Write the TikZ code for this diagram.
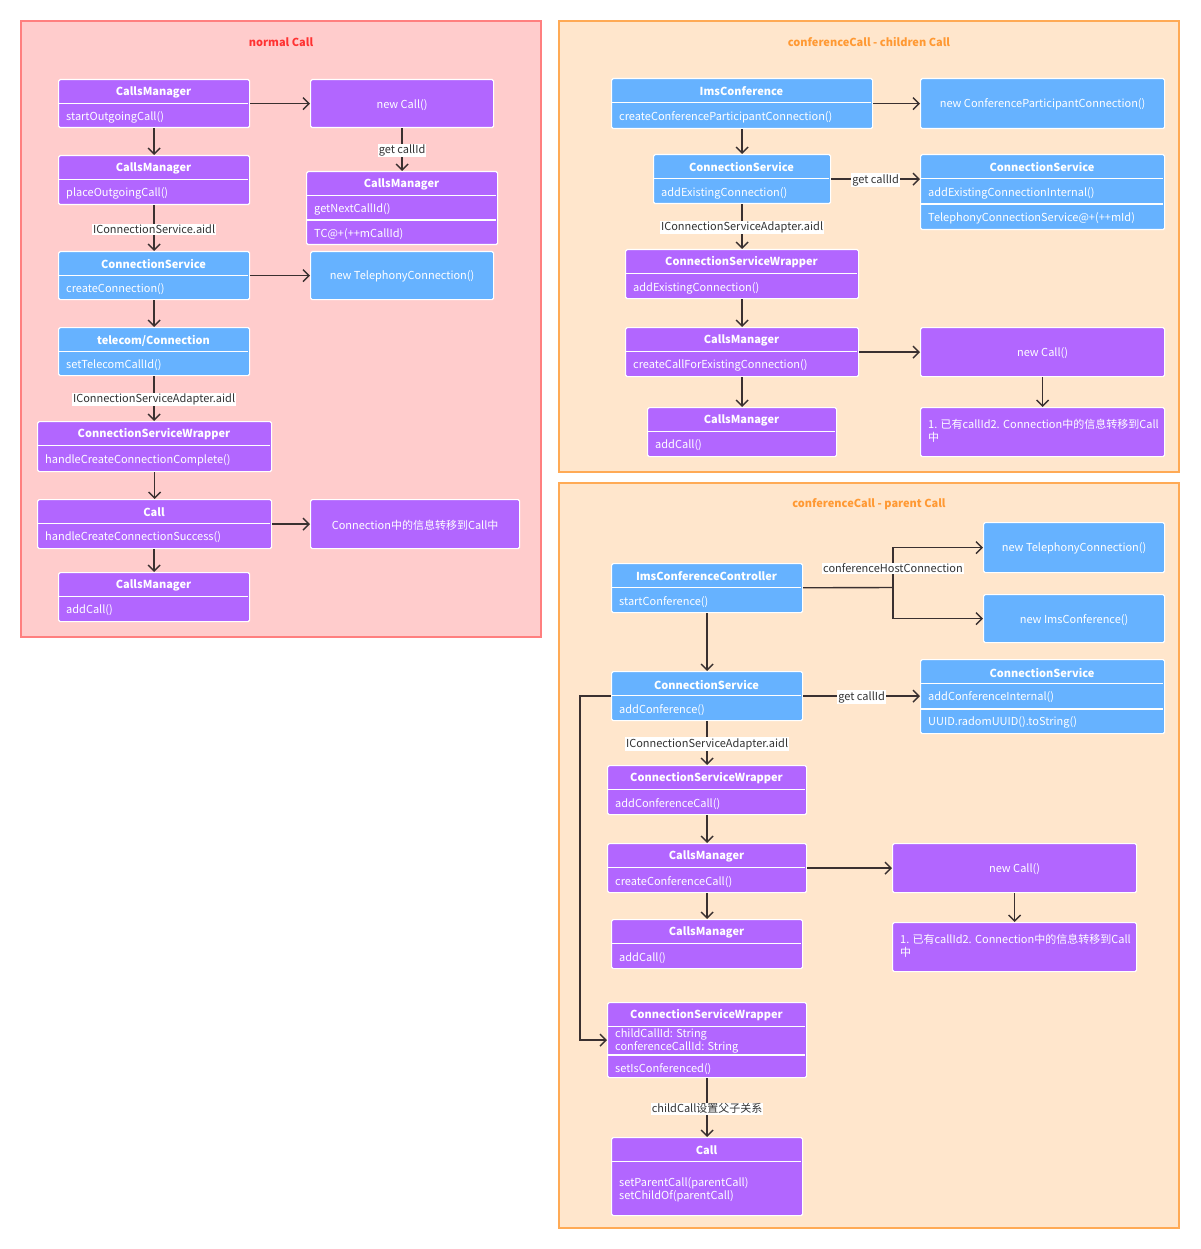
\documentclass[tikz,border=0pt]{standalone}
\usepackage{fontspec}
\setmainfont{Noto Sans CJK SC}
\usetikzlibrary{arrows.meta,calc}
\definecolor{purp}{HTML}{B266FF}
\definecolor{blu}{HTML}{66B2FF}
\definecolor{pinkbg}{HTML}{FFCCCC}
\definecolor{pinkbd}{HTML}{FF7F7F}
\definecolor{orgbg}{HTML}{FFE6CC}
\definecolor{orgbd}{HTML}{FFAA55}
\definecolor{redtitle}{HTML}{FF3333}
\definecolor{orgtitle}{HTML}{FF9933}
\definecolor{lnc}{HTML}{3A3030}
\definecolor{lbltext}{HTML}{333333}
\tikzset{
 ubox/.style={draw=white, line width=1.2pt, rounded corners=1.5pt, inner sep=0pt, text=white, font=\fontsize{11}{13}\selectfont},
 btext/.style={text=white, font=\fontsize{11}{13}\selectfont, inner sep=0pt, yshift=-1pt},
 htext/.style={text=white, font=\fontsize{11}{13}\selectfont\bfseries, inner sep=0pt, yshift=-1pt},
 mtext/.style={text=white, font=\fontsize{11}{13}\selectfont, inner sep=0pt, anchor=west, align=left, yshift=-1pt},
 sep/.style={draw=white, line width=1.5pt},
 conn/.style={draw=lnc, line width=1.4pt},
 arr/.style={conn, -{Straight Barb[length=6pt,width=12pt]}},
 lbl/.style={fill=white, text=lbltext, font=\fontsize{11}{13}\selectfont, inner sep=1pt, yshift=-1pt},
 panelbox/.style={line width=2pt},
 ptitle/.style={font=\fontsize{11}{13}\selectfont\bfseries, inner sep=0pt, yshift=-1pt},
}
\newcommand\classbox[7]{% name, fill, x, y, w, h, title
 \node[ubox,fill=#2,minimum width=#5pt,minimum height=#6pt,anchor=north west] (#1) at (#3,#4) {};
 \node[htext] at ({#3+#5/2},{#4+12.5}) {#7};
 \draw[sep] ({#3+0.6},{#4+24.5}) -- ++({#5-1.2},0);
}
\newcommand\plainbox[7]{% name, fill, x, y, w, h, text
 \node[ubox,fill=#2,minimum width=#5pt,minimum height=#6pt,anchor=north west] (#1) at (#3,#4) {};
 \node[btext] at (#1.center) {#7};
}
\newcommand\mrow[3]{\node[mtext] at ({#1+8},#2) {#3};}
\newcommand\rowsep[3]{\draw[sep] ({#1+0.6},#2) -- ++({#3-1.2},0);}
\begin{document}
\begin{tikzpicture}[x=1pt,y=-1pt]
\useasboundingbox (0,0) rectangle (1200,1249);
% ---------------- panel 1
\draw[panelbox,draw=pinkbd,fill=pinkbg] (21,21) rectangle (541,637);
\node[ptitle,text=redtitle] (t1) at (281,41) {normal Call};
\classbox{cmA}{purp}{58}{79}{191}{48}{CallsManager}
\mrow{58}{116}{startOutgoingCall()}
\plainbox{newcallA}{purp}{310}{79}{183}{48}{new Call()}
\classbox{cmB}{purp}{58}{155}{191}{49}{CallsManager}
\mrow{58}{192}{placeOutgoingCall()}
\classbox{cmC}{purp}{306}{171}{191}{73}{CallsManager}
\mrow{306}{208}{getNextCallId()}
\rowsep{306}{220}{191}
\mrow{306}{233}{TC@+(++mCallId)}
\classbox{csA}{blu}{58}{251}{191}{48}{ConnectionService}
\mrow{58}{288}{createConnection()}
\plainbox{ntA}{blu}{310}{251}{183}{48}{new TelephonyConnection()}
\classbox{tcA}{blu}{58}{327}{191}{48}{telecom/Connection}
\mrow{58}{364}{setTelecomCallId()}
\classbox{cswA}{purp}{37}{421}{234}{50}{ConnectionServiceWrapper}
\mrow{37}{459}{handleCreateConnectionComplete()}
\classbox{callA}{purp}{37}{499}{234}{49}{Call}
\mrow{37}{536}{handleCreateConnectionSuccess()}
\plainbox{infoA}{purp}{310}{499}{209}{49}{Connection中的信息转移到Call中}
\classbox{cmD}{purp}{58}{572}{191}{49}{CallsManager}
\mrow{58}{609}{addCall()}
\draw[arr] (cmA) -- (newcallA);
\draw[arr] (cmA) -- (cmB);
\draw[arr] (newcallA) -- node[lbl]{get callId} (cmC);
\draw[arr] (cmB) -- node[lbl]{IConnectionService.aidl} (csA);
\draw[arr] (csA) -- (ntA);
\draw[arr] (csA) -- (tcA);
\draw[arr] (tcA.south) -- node[lbl]{IConnectionServiceAdapter.aidl} (tcA.south |- cswA.north);
\draw[arr] (cswA) -- (callA);
\draw[arr] (callA) -- (infoA);
\draw[arr] (callA.south -| cmD.north) -- (cmD.north);
% ---------------- panel 2
\draw[panelbox,draw=orgbd,fill=orgbg] (559,21) rectangle (1179,472);
\node[ptitle,text=orgtitle] (t2) at (869,41) {conferenceCall - children Call};
\classbox{imsB}{blu}{611}{78}{261}{50}{ImsConference}
\mrow{611}{116}{createConferenceParticipantConnection()}
\plainbox{cpcB}{blu}{920}{78}{244}{50}{new ConferenceParticipantConnection()}
\classbox{csB}{blu}{653}{154}{177}{49}{ConnectionService}
\mrow{653}{192}{addExistingConnection()}
\classbox{csC}{blu}{920}{154}{244}{75}{ConnectionService}
\mrow{920}{192}{addExistingConnectionInternal()}
\rowsep{920}{204}{244}
\mrow{920}{217}{TelephonyConnectionService@+(++mId)}
\classbox{cswB}{purp}{625}{249}{233}{49}{ConnectionServiceWrapper}
\mrow{625}{287}{addExistingConnection()}
\classbox{cmE}{purp}{625}{327}{233}{49}{CallsManager}
\mrow{625}{364}{createCallForExistingConnection()}
\plainbox{ncB}{purp}{920}{327}{244}{49}{new Call()}
\classbox{cmF}{purp}{647}{407}{189}{49}{CallsManager}
\mrow{647}{444}{addCall()}
\plainbox{noteB}{purp}{920}{407}{244}{49}{}
\node[mtext,anchor=north west] at (928,418) {1. 已有callId2. Connection中的信息转移到Call\\中};
\draw[arr] (imsB) -- (cpcB);
\draw[arr] (imsB) -- (csB);
\draw[arr] (csB.east) -- node[lbl]{get callId} (csB.east -| csC.west);
\draw[arr] (csB) -- node[lbl]{IConnectionServiceAdapter.aidl} (cswB);
\draw[arr] (cswB) -- (cmE);
\draw[arr] (cmE) -- (ncB);
\draw[arr] (cmE) -- (cmF);
\draw[arr] (ncB) -- (noteB);
% ---------------- panel 3
\draw[panelbox,draw=orgbd,fill=orgbg] (559,483) rectangle (1179,1228);
\node[ptitle,text=orgtitle] (t3) at (869,503) {conferenceCall - parent Call};
\classbox{iccC}{blu}{611}{563}{191}{49}{ImsConferenceController}
\mrow{611}{601}{startConference()}
\plainbox{ntC}{blu}{983}{522}{181}{50}{new TelephonyConnection()}
\plainbox{nimsC}{blu}{983}{594}{181}{48}{new ImsConference()}
\classbox{csD}{blu}{611}{671}{191}{49}{ConnectionService}
\mrow{611}{709}{addConference()}
\classbox{csE}{blu}{920}{659}{244}{74}{ConnectionService}
\mrow{920}{696}{addConferenceInternal()}
\rowsep{920}{709}{244}
\mrow{920}{721}{UUID.radomUUID().toString()}
\classbox{cswC}{purp}{607}{765}{199}{49}{ConnectionServiceWrapper}
\mrow{607}{803}{addConferenceCall()}
\classbox{cmG}{purp}{607}{843}{199}{49}{CallsManager}
\mrow{607}{881}{createConferenceCall()}
\plainbox{ncC}{purp}{892}{843}{244}{49}{new Call()}
\classbox{cmH}{purp}{611}{919}{191}{49}{CallsManager}
\mrow{611}{957}{addCall()}
\plainbox{noteC}{purp}{892}{922}{244}{49}{}
\node[mtext,anchor=north west] at (900,933) {1. 已有callId2. Connection中的信息转移到Call\\中};
\classbox{cswD}{purp}{607}{1002}{199}{75}{ConnectionServiceWrapper}
\node[mtext,anchor=north west] at (615,1028) {childCallId: String\\conferenceCallId: String};
\rowsep{607}{1055}{199}
\mrow{607}{1068}{setIsConferenced()}
\classbox{callC}{purp}{611}{1137}{191}{78}{Call}
\node[mtext,anchor=north west] at (619,1176) {setParentCall(parentCall)\\setChildOf(parentCall)};
\coordinate (forkC) at (893,587.5);
\draw[conn] (iccC) -- (forkC);
\draw[arr] (forkC) |- node[lbl,pos=0.25]{conferenceHostConnection} (ntC.west);
\draw[arr] (forkC) |- (nimsC.west);
\draw[arr] (iccC) -- (csD);
\draw[arr] (csD.east) -- node[lbl]{get callId} (csD.east -| csE.west);
\draw[arr] (csD) -- node[lbl]{IConnectionServiceAdapter.aidl} (cswC);
\draw[arr] (cswC) -- (cmG);
\draw[arr] (cmG) -- (ncC);
\draw[arr] (cmG) -- (cmH);
\draw[arr] (ncC) -- (noteC);
\draw[arr] (csD.west) -- ++(-31,0) |- (cswD.west);
\draw[arr] (cswD) -- node[lbl]{childCall设置父子关系} (callC);
\end{tikzpicture}
\end{document}
